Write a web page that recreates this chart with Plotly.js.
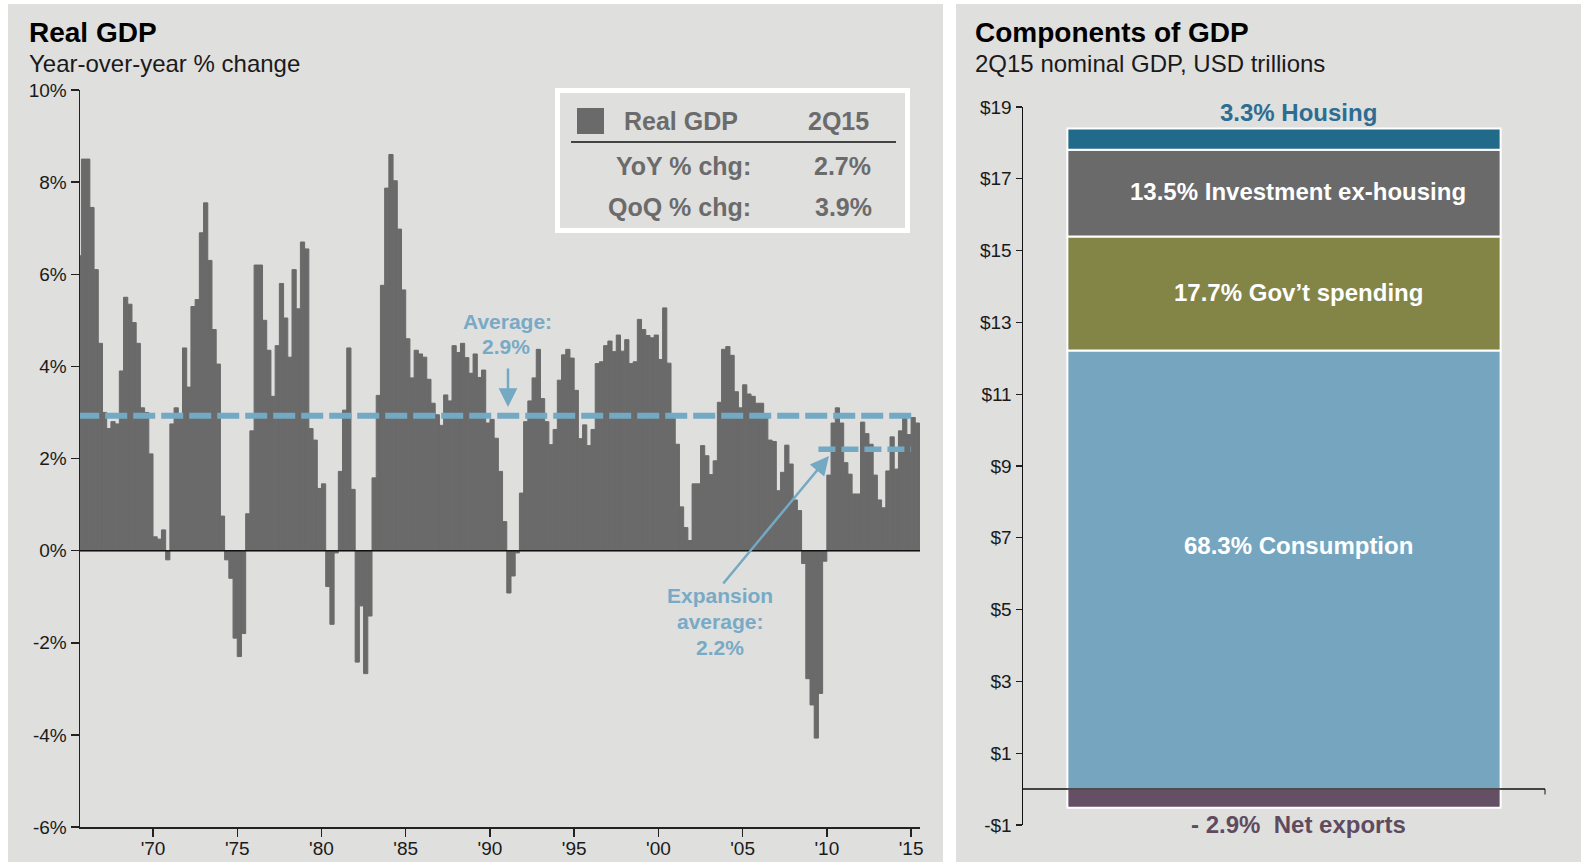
<!DOCTYPE html>
<html><head><meta charset="utf-8">
<script src="https://cdn.plot.ly/plotly-3.0.1.min.js"></script>
<style>html,body{margin:0;padding:0;background:#fff;}#chart{width:1581px;height:862px;}</style>
</head><body><div id="chart"></div>
<script>
// ---------- DATA ----------
const firstQuarter = '1965Q3';
// Real GDP, year-over-year % change, quarterly 1965Q3 .. 2015Q2
const gdpYoY = [
  6.4, 8.5, 8.5, 7.45, 6.1, 4.5, 3.0, 2.65, 2.8, 2.75,
  3.9, 5.5, 5.35, 4.95, 4.5, 3.1, 3.0, 2.1, 0.3, 0.25,
  0.45, -0.2, 2.75, 3.1, 2.95, 4.4, 3.55, 5.3, 5.45, 6.9,
  7.55, 6.3, 4.8, 4.05, 0.75, -0.2, -0.6, -1.9, -2.3, -1.8,
  0.8, 2.6, 6.2, 6.2, 5.0, 4.35, 3.35, 4.45, 5.8, 5.05,
  4.2, 6.1, 5.25, 6.7, 6.55, 2.65, 2.4, 1.35, 1.45, -0.78,
  -1.6, -0.05, 1.72, 3.05, 4.4, 1.33, -2.42, -1.2, -2.67, -1.42,
  1.58, 3.37, 5.76, 7.87, 8.6, 8.03, 6.98, 5.66, 4.6, 3.75,
  4.35, 4.27, 4.2, 3.72, 3.2, 2.95, 2.72, 3.38, 3.25, 4.45,
  4.3, 4.5, 4.19, 3.85, 4.27, 3.76, 3.92, 2.77, 2.85, 2.44,
  1.72, 0.63, -0.92, -0.55, -0.05, 1.25, 2.8, 3.25, 3.75, 4.37,
  3.3, 2.8, 2.3, 2.63, 3.7, 4.25, 4.37, 4.18, 3.48, 2.43,
  2.73, 2.28, 2.63, 4.06, 4.1, 4.45, 4.55, 4.32, 4.68, 4.33,
  4.58, 4.06, 4.1, 5.02, 4.8, 4.67, 4.62, 4.68, 4.15, 5.27,
  4.07, 2.95, 2.31, 0.95, 0.5, 0.22, 1.45, 1.45, 2.28, 2.06,
  1.65, 1.95, 3.22, 4.37, 4.43, 4.24, 3.45, 3.1, 3.6, 3.4,
  3.35, 3.2, 3.2, 2.9, 2.4, 2.37, 1.3, 1.7, 2.29, 1.88,
  1.1, 0.87, -0.28, -2.78, -3.35, -4.07, -3.1, -0.23, 1.64, 2.77,
  3.1, 2.77, 1.91, 1.66, 1.23, 1.23, 2.79, 2.54, 2.31, 1.64,
  1.1, 0.93, 1.73, 2.47, 1.77, 2.6, 2.87, 2.52, 2.89, 2.77
];
const longRunAverage = 2.93;          // "Average: 2.9%"
const expansionAverage = 2.2;         // "Expansion average: 2.2%"
const expansionQuarters = ['2009Q3', '2014Q4'];

const yTickVals = [-6, -4, -2, 0, 2, 4, 6, 8, 10];
const yTickText = ['-6%', '-4%', '-2%', '0%', '2%', '4%', '6%', '8%', '10%'];
const xTickVals = [1970, 1975, 1980, 1985, 1990, 1995, 2000, 2005, 2010, 2015];
const xTickText = ["'70", "'75", "'80", "'85", "'90", "'95", "'00", "'05", "'10", "'15"];

const legendHeader = ['Real GDP', '2Q15'];
const legendRows = ['YoY % chg:', 'QoQ % chg:'];
const legendValues = ['2.7%', '3.9%'];

// Components of GDP, 2Q15 nominal, USD trillions
const compCategory = ['2Q15'];
const compNames = ['Consumption', 'Gov’t spending', 'Investment ex-housing', 'Housing', 'Net exports'];
const compValues = [12.22, 3.17, 2.42, 0.59, -0.52];
const compShares = ['68.3%', '17.7%', '13.5%', '3.3%', '- 2.9%'];
const compTickVals = [-1, 1, 3, 5, 7, 9, 11, 13, 15, 17, 19];
const compTickText = ['-$1', '$1', '$3', '$5', '$7', '$9', '$11', '$13', '$15', '$17', '$19'];

// ---------- HELPERS ----------
const W = 1581, H = 862;
const F = 'Liberation Sans, Arial, Helvetica, sans-serif';
const qToYear = q => parseInt(q.slice(0, 4)) + (parseInt(q.slice(5)) - 1) / 4;
const quarters = [];
{
  let y = parseInt(firstQuarter.slice(0, 4)), q = parseInt(firstQuarter.slice(5));
  for (let i = 0; i < gdpYoY.length; i++) {
    quarters.push(y + 'Q' + q);
    q++; if (q > 4) { q = 1; y++; }
  }
}
const xCenters = quarters.map(q => qToYear(q) + 0.125);
const firstStart = qToYear(quarters[0]);
const lastStart = qToYear(quarters[quarters.length - 1]);
const expStart = qToYear(expansionQuarters[0]);
const expEnd = qToYear(expansionQuarters[1]) + 0.25;

const px = x => x / W, py = y => 1 - y / H;
function txt(text, x, y, size, color, extra) {
  return Object.assign({xref: 'paper', yref: 'paper', x: px(x), y: py(y), text: text, showarrow: false,
    font: {family: F, size: size, color: color}, xanchor: 'center', yanchor: 'middle'}, extra || {});
}

const BAR = '#6a6a6a', BLUE = '#74a9c4', BLUE_TXT = '#78aac6', PANEL = '#dfdfde';
const compColors = ['#76a6bf', '#838547', '#6a6a6a', '#216a89', '#654f65'];

// ---------- TRACES ----------
const traces = [
  {type: 'bar', x: xCenters, y: gdpYoY, width: 0.25, xaxis: 'x', yaxis: 'y',
   marker: {color: BAR, line: {color: BAR, width: 1}}, hoverinfo: 'x+y', showlegend: false},
  {type: 'scatter', mode: 'lines', x: [firstStart, lastStart], y: [longRunAverage, longRunAverage],
   xaxis: 'x', yaxis: 'y', line: {color: BLUE, width: 6, dash: '22px,6px'}, showlegend: false, hoverinfo: 'skip'},
  {type: 'scatter', mode: 'lines', x: [expStart, expEnd], y: [expansionAverage, expansionAverage],
   xaxis: 'x', yaxis: 'y', line: {color: BLUE, width: 5.5, dash: '17px,6px'}, showlegend: false, hoverinfo: 'skip'}
];
compNames.forEach((n, i) => traces.push({
  type: 'bar', name: n, x: compCategory, y: [compValues[i]], width: 0.83, xaxis: 'x2', yaxis: 'y2',
  marker: {color: compColors[i], line: {color: '#ffffff', width: 2}}, showlegend: false
}));

// ---------- ANNOTATIONS ----------
const ann = [
  txt('<b>Real GDP</b>', 27, 33, 28, '#000', {xanchor: 'left'}),
  txt('Year-over-year % change', 27, 63, 24, '#1a1a1a', {xanchor: 'left'}),
  txt('<b>Components of GDP</b>', 973, 33, 28, '#000', {xanchor: 'left'}),
  txt('2Q15 nominal GDP, USD trillions', 973, 63, 24, '#1a1a1a', {xanchor: 'left'}),
  // legend box text
  txt('<b>' + legendHeader[0] + '</b>', 681, 121, 25, '#6b6b6b'),
  txt('<b>' + legendHeader[1] + '</b>', 838, 121, 25, '#6b6b6b'),
  txt('<b>' + legendRows[0] + '</b>', 753, 166, 25, '#6b6b6b', {xanchor: 'right'}),
  txt('<b>' + legendRows[1] + '</b>', 753, 207, 25, '#6b6b6b', {xanchor: 'right'}),
  txt('<b>' + legendValues[0] + '</b>', 842, 166, 25, '#6b6b6b'),
  txt('<b>' + legendValues[1] + '</b>', 843, 207, 25, '#6b6b6b'),
  // average notes
  txt('<b>Average:</b>', 508, 322, 21, BLUE_TXT),
  txt('<b>' + longRunAverage.toFixed(1) + '%</b>', 506, 346, 21, BLUE_TXT),
  txt('<b>Expansion</b>', 720, 595, 21, BLUE_TXT),
  txt('<b>average:</b>', 720, 621, 21, BLUE_TXT),
  txt('<b>' + expansionAverage.toFixed(1) + '%</b>', 720, 647, 21, BLUE_TXT),
  {xref: 'paper', yref: 'paper', x: px(508), y: py(407), ax: 0, ay: -40, text: '', showarrow: true,
   arrowhead: 2, arrowsize: 1.5, arrowwidth: 2.5, arrowcolor: BLUE, standoff: 0},
  {xref: 'paper', yref: 'paper', x: px(829), y: py(456), ax: -107, ay: 129, text: '', showarrow: true,
   arrowhead: 2, arrowsize: 1.5, arrowwidth: 2.5, arrowcolor: BLUE, standoff: 0},
  // components labels
  txt('<b>' + compShares[3] + ' ' + compNames[3] + '</b>', 1298, 113, 24, '#2d6d92'),
  txt('<b>' + compShares[2] + ' ' + compNames[2] + '</b>', 1298, 191, 24, '#ffffff'),
  txt('<b>' + compShares[1] + ' ' + compNames[1] + '</b>', 1298, 292, 24, '#ffffff'),
  txt('<b>' + compShares[0] + ' ' + compNames[0] + '</b>', 1298, 545, 24, '#ffffff'),
  txt('<b>' + compShares[4] + '\u00A0 ' + compNames[4] + '</b>', 1298, 824, 24, '#5f4b60')
];

// ---------- SHAPES ----------
const shapes = [
  {type: 'rect', xref: 'paper', yref: 'paper', x0: px(8), x1: px(943), y0: 0, y1: py(4), fillcolor: PANEL, line: {width: 0}, layer: 'below'},
  {type: 'rect', xref: 'paper', yref: 'paper', x0: px(956), x1: 1, y0: 0, y1: py(4), fillcolor: PANEL, line: {width: 0}, layer: 'below'},
  // legend box
  {type: 'rect', xref: 'paper', yref: 'paper', x0: px(557.5), x1: px(907.5), y0: py(230.5), y1: py(90.5), line: {color: '#ffffff', width: 5}, fillcolor: 'rgba(0,0,0,0)'},
  {type: 'rect', xref: 'paper', yref: 'paper', x0: px(577), x1: px(604), y0: py(134), y1: py(108), line: {width: 0}, fillcolor: BAR},
  {type: 'line', xref: 'paper', yref: 'paper', x0: px(571), x1: px(896), y0: py(142), y1: py(142), line: {color: '#111', width: 1.5}},
  // zero lines
  {type: 'line', xref: 'x domain', yref: 'y', x0: 0, x1: 1, y0: 0, y1: 0, line: {color: '#111', width: 1.5}, layer: 'above'},
  {type: 'line', xref: 'x2 domain', yref: 'y2', x0: 0, x1: 1, y0: 0, y1: 0, line: {color: '#111', width: 1.5}, layer: 'above'},
  {type: 'line', xref: 'x2 domain', yref: 'y2', x0: 1, x1: 1, y0: 0, y1: -0.15, line: {color: '#111', width: 1}, layer: 'above'}
];

const layout = {
  width: W, height: H, margin: {l: 0, r: 0, t: 0, b: 0},
  paper_bgcolor: '#ffffff', plot_bgcolor: 'rgba(0,0,0,0)',
  barmode: 'relative', bargap: 0, showlegend: false,
  font: {family: F, color: '#1a1a1a'},
  xaxis: {domain: [px(80), px(920)], range: [1965.665, 2015.53], type: 'linear',
    tickvals: xTickVals, ticktext: xTickText, ticks: 'outside', ticklen: 8, tickwidth: 1.5, tickcolor: '#222',
    ticklabelstandoff: -4,
    showline: true, linecolor: '#222', linewidth: 1.5, showgrid: false, zeroline: false,
    tickfont: {family: F, size: 19, color: '#1a1a1a'}, anchor: 'y', fixedrange: true},
  yaxis: {domain: [py(827), py(90)], range: [-6, 10], tickvals: yTickVals, ticktext: yTickText,
    ticks: 'outside', ticklen: 8, tickwidth: 1.5, tickcolor: '#222', showline: true, linecolor: '#222', linewidth: 1.5,
    showgrid: false, zeroline: false, tickfont: {family: F, size: 19, color: '#1a1a1a'}, anchor: 'x', fixedrange: true},
  xaxis2: {domain: [px(1023), px(1545)], range: [-0.5, 0.5], type: 'category', showticklabels: false,
    ticks: '', showline: false, showgrid: false, zeroline: false, anchor: 'y2', fixedrange: true},
  yaxis2: {domain: [py(825), py(107)], range: [-1, 19], tickvals: compTickVals, ticktext: compTickText,
    ticks: 'outside', ticklen: 6, tickwidth: 1.2, tickcolor: '#222', showline: true, linecolor: '#111', linewidth: 1.5,
    showgrid: false, zeroline: false, tickfont: {family: F, size: 19, color: '#1a1a1a'}, anchor: 'x2', fixedrange: true},
  shapes: shapes, annotations: ann
};

Plotly.newPlot('chart', traces, layout, {displayModeBar: false, staticPlot: true});
</script>
</body></html>
